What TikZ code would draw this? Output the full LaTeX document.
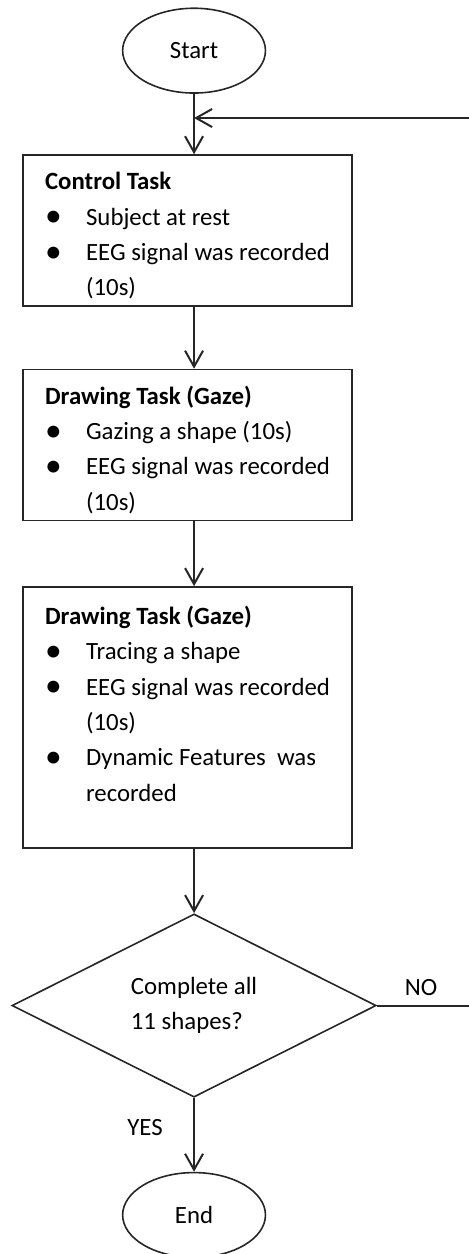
\documentclass[tikz,border=0pt]{standalone}
\usepackage{fontspec}
\setmainfont{Carlito}
\usetikzlibrary{shapes.geometric,arrows.meta,positioning}
\definecolor{inkline}{HTML}{262626}
\newcommand{\bul}{\makebox[20.5pt][l]{\raisebox{-0.8pt}{\scalebox{1.35}{\textbullet}}}}
\newcommand{\wrapin}{\hspace*{20.5pt}}
\newcommand{\tasktitle}[1]{\rule{0pt}{14pt}\textbf{#1}}

\begin{document}
\begin{tikzpicture}[
  font=\fontsize{12.4}{17.7}\selectfont,
  terminal/.style={ellipse, draw=inkline, line width=0.8pt, minimum width=2.51cm, minimum height=1.49cm},
  taskbox/.style={rectangle, draw=inkline, line width=0.8pt, minimum width=5.78cm, align=left},
  decision/.style={diamond, draw=inkline, line width=0.8pt, minimum width=6.4cm, minimum height=3.22cm, inner sep=0pt, align=left},
  arr/.style={-{Straight Barb[length=8pt,width=9pt]}, line width=1pt, inkline}
]
  \useasboundingbox (0,0) rectangle (8.224,-22.036);

  \node[terminal] (start) at (3.41,-0.89) {Start};
  \node[taskbox, minimum height=2.62cm] (ctrl) at (3.295,-4.051) {\tasktitle{Control Task}\\
    \bul Subject at rest\\
    \bul EEG signal was recorded\\
    \wrapin (10s)};
  \node[taskbox, minimum height=2.64cm] (gaze) at (3.295,-7.82) {\tasktitle{Drawing Task (Gaze)}\\
    \bul Gazing a shape (10s)\\
    \bul EEG signal was recorded\\
    \wrapin (10s)};
  \node[taskbox, minimum height=4.59cm] (trace) at (3.295,-12.609) {\tasktitle{Drawing Task (Gaze)}\\
    \bul Tracing a shape\\
    \bul EEG signal was recorded\\
    \wrapin (10s)\\
    \bul Dynamic Features\ \ was\\
    \wrapin recorded\\[1pt]
    \mbox{}};
  \node[decision] (check) at (3.41,-17.67) {Complete all\\11 shapes?};
  \node[terminal] (finish) at (3.41,-21.35) {End};

  \node (no) at (7.398,-17.345) {NO};
  \node (yes) at (2.548,-19.822) {YES};

  \coordinate (join) at (3.41,-2.074);
  \coordinate (loopTop) at (8.4,-2.074);

  \draw[arr] (start) -- (start |- ctrl.north);
  \draw[arr] (ctrl.south -| start) -- (gaze.north -| start);
  \draw[arr] (gaze.south -| start) -- (trace.north -| start);
  \draw[arr] (trace.south -| start) -- (check);
  \draw[arr] (check) -- (finish);
  \draw[arr] (check.east) -| (loopTop) -- (join);
\end{tikzpicture}
\end{document}
